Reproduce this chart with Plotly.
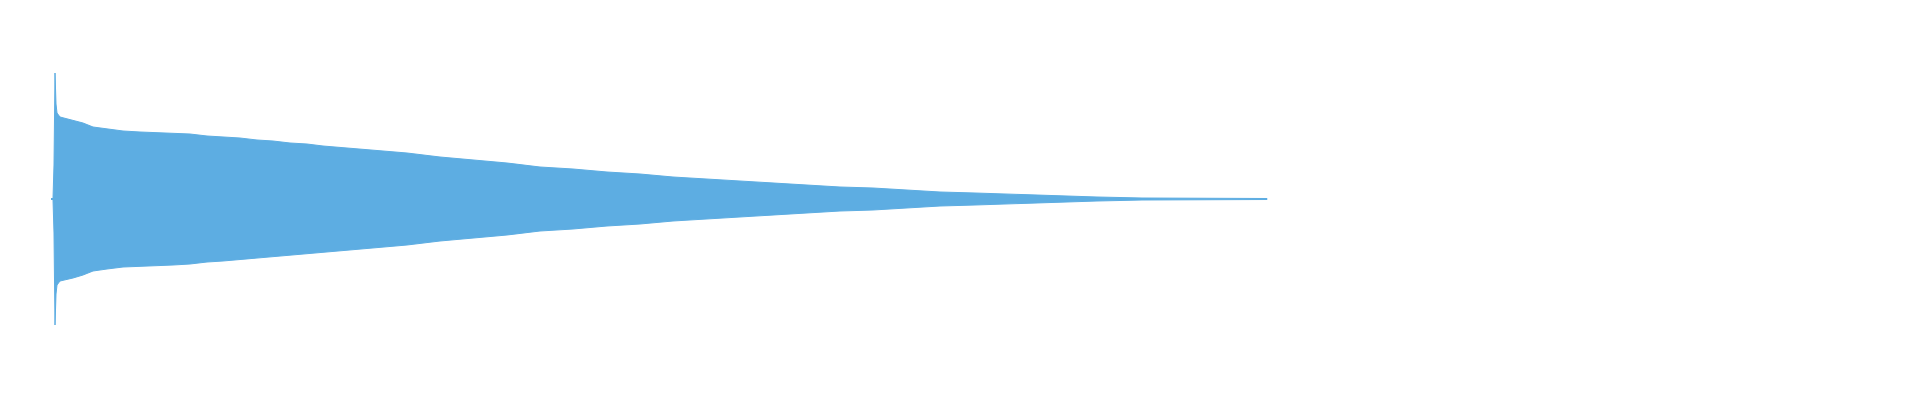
import plotly.graph_objects as go

# Waveform envelope readings (time in seconds, normalized peak amplitude)
times = [0, 0.02, 0.03, 0.04, 0.05, 0.06, 0.09, 0.22, 0.32, 0.42, 0.56, 0.72, 0.89,
         1.22, 1.39, 1.56, 1.72, 1.89, 2.06, 2.22, 2.39, 2.56, 2.72, 2.89, 3.22, 3.56,
         3.89, 4.22, 4.56, 4.89, 5.22, 5.56, 5.89, 6.22, 6.56, 6.89, 7.22, 7.56, 7.89,
         8.22, 8.56, 8.89, 9.24, 9.52, 9.79, 10.09, 10.46, 10.91, 11.66, 12.16]
amplitude = [0.0025, 0.0025, 0.17, 0.63, 0.475, 0.43, 0.41, 0.395, 0.38, 0.36, 0.35,
             0.34, 0.335, 0.33, 0.325, 0.315, 0.31, 0.305, 0.295, 0.29, 0.28, 0.275,
             0.265, 0.2575, 0.245, 0.23, 0.21, 0.195, 0.18, 0.16, 0.15, 0.135, 0.125,
             0.11, 0.10, 0.09, 0.08, 0.07, 0.06, 0.055, 0.045, 0.035, 0.03, 0.025,
             0.02, 0.015, 0.01, 0.005, 0.0025, 0.0025]

color = "#5DADE2"

xs = times + times[::-1]
ys = amplitude + [-a for a in amplitude[::-1]]

fig = go.Figure()
fig.add_trace(go.Scatter(
    x=xs, y=ys, mode="lines", fill="toself",
    fillcolor=color, line=dict(color=color, width=1),
    hoverinfo="skip", showlegend=False,
))

fig.update_layout(
    width=1920, height=400,
    margin=dict(l=43, r=0, t=0, b=18),
    paper_bgcolor="white", plot_bgcolor="white",
    xaxis=dict(range=[0, 18.77], visible=False, fixedrange=True),
    yaxis=dict(range=[-0.955, 0.955], visible=False, fixedrange=True),
)

fig.write_html("out.html")
